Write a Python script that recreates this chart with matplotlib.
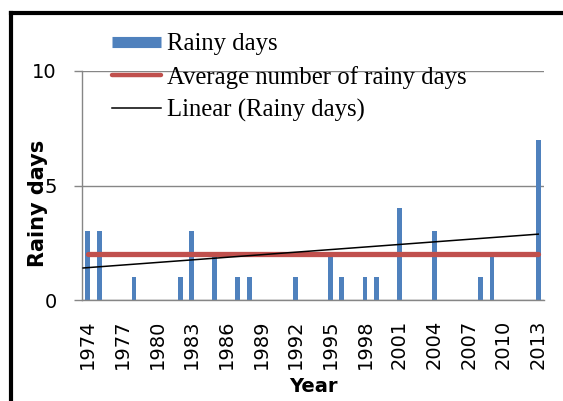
import matplotlib
matplotlib.use("Agg")
import matplotlib.pyplot as plt
from matplotlib.lines import Line2D
import numpy as np

# yearly rainy days, 1974-2013 (blank years have none)
years = list(range(1974, 2014))
rainy_days = [3, 3, 0, 0, 1, 0, 0, 0, 1, 3,
              0, 2, 0, 1, 1, 0, 0, 0, 1, 0,
              0, 2, 1, 0, 1, 1, 0, 4, 0, 0,
              3, 0, 0, 0, 1, 2, 0, 0, 0, 7]
average_days = 2
tick_years = list(range(1974, 2014, 3))

blue = "#4F81BD"
red = "#C0504D"
grid = "#868686"

fig = plt.figure(figsize=(5.63, 4.01), dpi=100)
ax = fig.add_axes([82 / 563, 101 / 401, 462 / 563, 229 / 401])

x = np.arange(len(years))
y = np.array(rainy_days, dtype=float)
ax.bar(x, y, width=0.42, color=blue, zorder=2)

# average line across all years
ax.plot([x[0], x[-1]], [average_days, average_days], color=red, lw=3.8,
        solid_capstyle="round", zorder=3)

# linear trend, fitted on years that had rainy days
m = y > 0
k, b = np.polyfit(x[m], y[m], 1)
xt = np.array([-0.4, x[-1]])
ax.plot(xt, k * xt + b, color="black", lw=1.1, zorder=4)

ax.set_xlim(-0.5, len(years) - 0.5)
ax.set_ylim(0, 10)
ax.set_yticks([0, 5, 10])
ax.set_yticklabels(["0", "5", "10"])
ax.set_xticks([years.index(t) for t in tick_years])
ax.set_xticklabels([str(t) for t in tick_years], rotation=90)

ax.yaxis.grid(True, color=grid, lw=1.0)
ax.set_axisbelow(True)
for s in ["top", "right"]:
    ax.spines[s].set_visible(False)
for s in ["left", "bottom"]:
    ax.spines[s].set_color(grid)
    ax.spines[s].set_linewidth(1.0)
ax.tick_params(axis="y", length=6, color=grid, width=1.0, pad=12, labelsize=14)
ax.tick_params(axis="x", length=0, pad=14, labelsize=14)

ax.set_xlabel("Year", fontsize=14, fontweight="bold", va="center")
ax.xaxis.set_label_coords(0.5, (14 - 101) / 229)
ax.set_ylabel("Rainy days", fontsize=15, fontweight="bold", va="center")
ax.yaxis.set_label_coords((38 - 82) / 462, (300 - 203) / 229)

handles = [
    Line2D([], [], color=blue, lw=8, solid_capstyle="butt"),
    Line2D([], [], color=red, lw=3.2, solid_capstyle="round"),
    Line2D([], [], color="black", lw=1.1),
]
labels = ["Rainy days", "Average number of rainy days", "Linear (Rainy days)"]
leg = fig.legend(handles, labels, loc="upper left",
                 bbox_to_anchor=(112 / 563, 1 - 33 / 401),
                 frameon=False, handlelength=2.0, handletextpad=0.22,
                 labelspacing=0.42, borderaxespad=0, borderpad=0,
                 prop={"family": "Liberation Serif", "size": 17.8})

# black frame on top and left edge
fig.add_artist(Line2D([11 / 563, 1], [1 - 13 / 401] * 2, color="black", lw=3,
                      transform=fig.transFigure))
fig.add_artist(Line2D([11 / 563] * 2, [0, 1 - 13 / 401], color="black", lw=3,
                      transform=fig.transFigure))

fig.savefig("out.png", dpi=100)
